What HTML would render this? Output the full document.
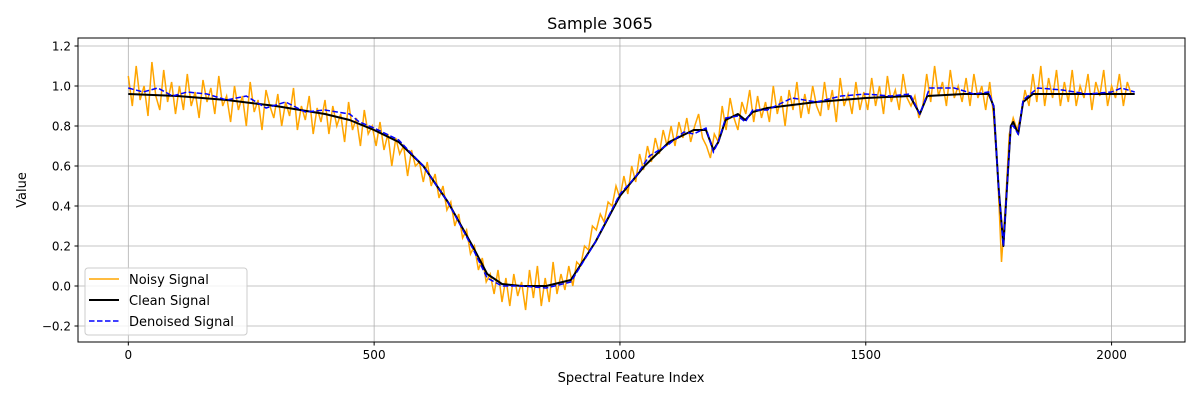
<!DOCTYPE html>
<html><head><meta charset="utf-8"><style>
body{margin:0;background:#fff;font-family:"DejaVu Sans","Liberation Sans",sans-serif}
svg text{font-family:"DejaVu Sans","Liberation Sans",sans-serif}
</style></head><body>
<svg id="chart" width="1200" height="400" xmlns="http://www.w3.org/2000/svg">
<rect width="1200" height="400" fill="#fff"/>
<g id="grid"></g>
<g id="series"></g>
<rect x="78" y="38" width="1107" height="304" fill="none" stroke="#000" stroke-width="1"/>
<g id="ticks"></g>
<text x="600" y="29" font-size="16" text-anchor="middle">Sample 3065</text>
<text x="631" y="382" font-size="13" text-anchor="middle">Spectral Feature Index</text>
<text x="26" y="190" font-size="13" text-anchor="middle" transform="rotate(-90 26 190)">Value</text>
<g>
<rect x="85" y="268" width="162" height="67" rx="3" fill="#fff" fill-opacity="0.8" stroke="#ccc"/>
<line x1="89" y1="279" x2="119" y2="279" stroke="orange" stroke-width="1.5"/>
<text x="129" y="284" font-size="13">Noisy Signal</text>
<line x1="89" y1="300" x2="119" y2="300" stroke="#000" stroke-width="2"/>
<text x="129" y="305" font-size="13">Clean Signal</text>
<line x1="89" y1="321" x2="119" y2="321" stroke="blue" stroke-width="1.5" stroke-dasharray="5.5,2.5"/>
<text x="129" y="326" font-size="13">Denoised Signal</text>
</g>
</svg>
<script>
const xTicks=[0,500,1000,1500,2000];
const yTicks=[-0.2,0,0.2,0.4,0.6,0.8,1.0,1.2];
const yTickLabels=["\u22120.2","0.0","0.2","0.4","0.6","0.8","1.0","1.2"];
const noisyStep=8;
const noisy=[1.05,0.9,1.1,0.93,1.0,0.85,1.12,0.95,0.88,1.08,0.92,1.02,0.86,
1.0,0.88,1.06,0.9,0.97,0.84,1.03,0.92,0.99,0.86,1.05,0.9,0.95,
0.82,1.0,0.88,0.95,0.8,1.02,0.87,0.93,0.78,0.98,0.9,0.84,
0.96,0.8,0.92,0.85,0.99,0.78,0.9,0.83,0.95,0.76,0.89,0.82,0.93,
0.76,0.9,0.8,0.86,0.72,0.92,0.78,0.84,0.7,0.88,0.76,0.8,
0.7,0.82,0.68,0.76,0.6,0.74,0.66,0.7,0.55,0.68,0.6,0.62,0.52,
0.62,0.5,0.56,0.44,0.5,0.38,0.42,0.3,0.36,0.24,0.28,0.16,0.2,
0.08,0.14,0.02,0.06,-0.04,0.08,-0.08,0.04,-0.1,0.06,-0.05,0.02,
-0.12,0.08,-0.06,0.1,-0.1,0.04,-0.08,0.12,-0.04,0.06,-0.02,0.1,
0.0,0.12,0.1,0.2,0.18,0.3,0.28,0.36,0.32,0.42,0.4,0.5,0.44,
0.55,0.46,0.6,0.52,0.66,0.58,0.7,0.62,0.74,0.66,0.78,0.7,
0.8,0.7,0.82,0.74,0.84,0.72,0.8,0.86,0.74,0.7,0.64,0.76,0.72,
0.9,0.78,0.94,0.84,0.78,0.92,0.86,0.98,0.82,0.95,0.84,0.92,
0.82,1.0,0.86,0.95,0.8,0.98,0.88,1.02,0.84,0.96,0.86,1.0,0.9,
0.85,1.02,0.88,0.98,0.82,1.04,0.9,0.96,0.86,1.02,0.88,0.97,
0.88,1.04,0.9,1.0,0.86,1.05,0.92,0.98,0.88,1.06,0.94,0.9,0.95,
0.84,0.9,1.06,0.92,1.1,0.95,1.02,0.9,1.08,0.94,1.0,0.92,
1.04,0.9,1.06,0.94,1.0,0.88,1.02,0.85,0.58,0.12,0.4,0.76,0.84,
0.78,0.86,0.98,0.9,1.06,0.92,1.1,0.9,1.04,0.94,1.08,0.9,
1.02,0.92,1.08,0.9,1.0,0.94,1.06,0.88,1.02,0.95,1.08,0.9,1.0,0.94,1.06,0.9,1.02,0.96];
const cleanX=[0,100,200,300,400,450,500,550,600,650,700,730,760,800,850,900,950,1000,1050,1100,1150,1175,1190,1200,1215,1240,1255,1270,1300,1400,1500,1590,1610,1625,1700,1750,1760,1770,1780,1790,1795,1800,1810,1820,1840,1900,2047];
const cleanY=[0.96,0.95,0.93,0.9,0.86,0.83,0.78,0.72,0.6,0.42,0.2,0.06,0.01,0.0,0.0,0.03,0.22,0.45,0.6,0.72,0.78,0.78,0.68,0.72,0.83,0.86,0.83,0.87,0.89,0.92,0.94,0.95,0.86,0.95,0.96,0.96,0.9,0.5,0.2,0.6,0.8,0.82,0.76,0.92,0.96,0.96,0.96];
const denX=[0,30,60,90,120,160,200,240,280,320,360,400,450,470,500,550,600,650,700,730,760,800,850,900,950,1000,1030,1060,1100,1130,1150,1175,1190,1200,1215,1240,1255,1270,1300,1350,1400,1450,1500,1550,1590,1610,1630,1680,1720,1750,1760,1770,1780,1790,1795,1800,1810,1820,1850,1900,1950,2000,2020,2047];
const denY=[0.99,0.97,0.99,0.95,0.97,0.96,0.93,0.95,0.89,0.92,0.87,0.88,0.86,0.82,0.79,0.73,0.6,0.42,0.19,0.04,0.0,0.0,-0.01,0.02,0.22,0.46,0.54,0.65,0.71,0.77,0.76,0.79,0.67,0.72,0.84,0.85,0.82,0.88,0.88,0.94,0.92,0.95,0.96,0.95,0.96,0.86,0.99,0.99,0.96,0.97,0.9,0.5,0.2,0.6,0.8,0.8,0.76,0.93,0.99,0.98,0.96,0.97,0.99,0.97];
const X0=78,X1=1185,Y0=342,Y1=38,xmin=-102.35,xmax=2149.35,ymin=-0.28,ymax=1.24;
const sx=v=>X0+(v-xmin)/(xmax-xmin)*(X1-X0);
const sy=v=>Y0-(v-ymin)/(ymax-ymin)*(Y0-Y1);
const NS="http://www.w3.org/2000/svg";
function mk(tag,attrs,parent){const e=document.createElementNS(NS,tag);for(const k in attrs)e.setAttribute(k,attrs[k]);parent.appendChild(e);return e;}
const grid=document.getElementById('grid'),ticks=document.getElementById('ticks'),series=document.getElementById('series');
xTicks.forEach(t=>{const x=sx(t);
 const g=mk('line',{x1:x,x2:x,y1:Y1,y2:Y0,stroke:'#b0b0b0','stroke-width':0.8},grid);
 
 
 mk('line',{x1:x,x2:x,y1:Y0,y2:Y0+3.5,stroke:'#000'},ticks);
 const tx=mk('text',{x:x,y:Y0+17,'font-size':12,'text-anchor':'middle'},ticks);tx.textContent=t;
 
 });
yTicks.forEach((t,i)=>{const y=sy(t);
 const g=mk('line',{x1:X0,x2:X1,y1:y,y2:y,stroke:'#b0b0b0','stroke-width':0.8},grid);
 
 
 mk('line',{x1:X0-3.5,x2:X0,y1:y,y2:y,stroke:'#000'},ticks);
 const tx=mk('text',{x:X0-7,y:y+4.5,'font-size':12,'text-anchor':'end'},ticks);tx.textContent=yTickLabels[i];
 
 });
const pn=noisy.map((v,i)=>sx(i*noisyStep).toFixed(1)+','+sy(v).toFixed(1)).join(' ');
const n=mk('polyline',{points:pn,fill:'none',stroke:'orange','stroke-width':1.5},series);


const pc=cleanX.map((v,i)=>sx(v).toFixed(1)+','+sy(cleanY[i]).toFixed(1)).join(' ');
const c=mk('polyline',{points:pc,fill:'none',stroke:'#000','stroke-width':2,'stroke-linejoin':'round'},series);


const pd=denX.map((v,i)=>sx(v).toFixed(1)+','+sy(denY[i]).toFixed(1)).join(' ');
const d=mk('polyline',{points:pd,fill:'none',stroke:'blue','stroke-width':1.5,'stroke-dasharray':'5.5,2.5'},series);


</script>
</body></html>
